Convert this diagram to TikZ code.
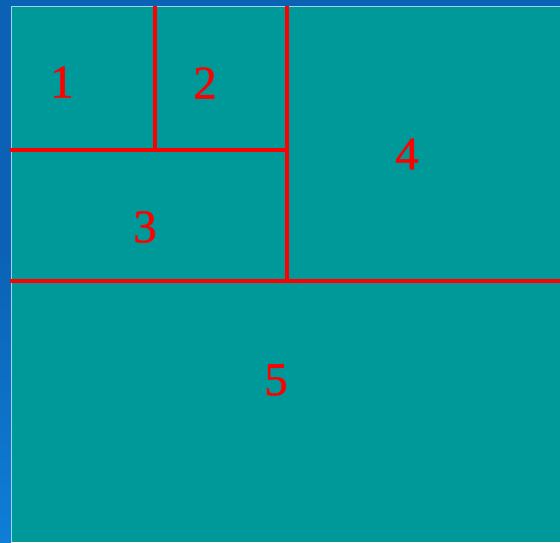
\documentclass[tikz,border=0pt]{standalone}
\usepackage{fontspec}
\setmainfont{Liberation Serif}
\newfontfamily\numfont[FakeBold=0.8]{Liberation Serif}
\definecolor{bgblue}{HTML}{0B62B4}
\definecolor{bgblue2}{HTML}{0E7ED6}
\definecolor{teal0}{HTML}{009999}
\definecolor{edge}{HTML}{9FD3F2}
\definecolor{redline}{HTML}{FF0000}
\tikzset{
  divider/.style={draw=redline, line width=4pt},
  num/.style={text=redline, font=\numfont\fontsize{47}{47}\selectfont, inner sep=0pt}
}
\begin{document}
\begin{tikzpicture}[x=1pt,y=-1pt]
\useasboundingbox (0,0) rectangle (560,542);
\fill[bgblue] (0,0) rectangle (560,542);
\shade[top color=bgblue, bottom color=bgblue2] (0,250) rectangle (11,542);
\fill[teal0] (12,7) rectangle (560,542);
\draw[edge, line width=1.5pt] (11.5,542) -- (11.5,6.5) -- (560,6.5);
% dividers
\draw[divider] (10,150) -- (287,150);
\draw[divider] (155,6) -- (155,150);
\draw[divider] (287,6) -- (287,281);
\draw[divider] (10,281) -- (560,281);
% labels
\node[num] (n1) at (62,82) {1};
\node[num] (n2) at (205,83) {2};
\node[num] (n3) at (145,227) {3};
\node[num] (n4) at (407,154) {4};
\node[num] (n5) at (276,380) {5};
\end{tikzpicture}
\end{document}
